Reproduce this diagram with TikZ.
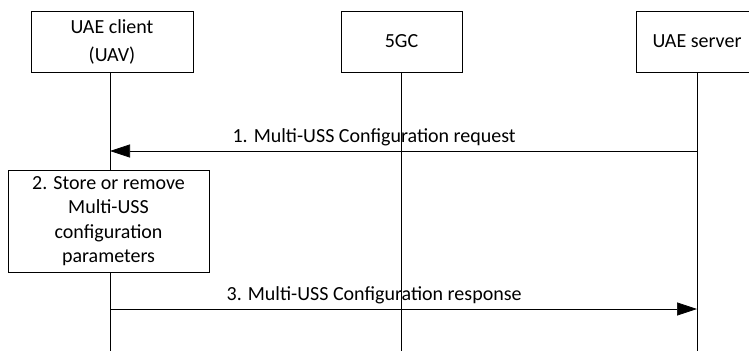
\documentclass[tikz,border=0pt]{standalone}
\usepackage{fontspec}
\setmainfont{Carlito}
\usetikzlibrary{arrows.meta}

\begin{document}
\begin{tikzpicture}[x=1pt, y=-1pt, font=\fontsize{20}{24.5}\selectfont,
  entity/.style={draw, line width=0.7pt, minimum height=61pt, align=center, inner sep=0pt},
  life/.style={line width=0.7pt},
  msg/.style={line width=0.7pt, -{Triangle[length=20pt, width=13pt]}}]
\useasboundingbox (0,0) rectangle (749,351);

% entities
\node[entity, minimum width=162pt] (cli) at (112,41.5) {UAE client\\[3.5pt](UAV)};
\node[entity, minimum width=121pt] (core) at (401.5,41.5) {5GC};
\node[entity, minimum width=122pt] (srv) at (697,41.5) {UAE server};

% lifeline ends
\coordinate (cliEnd) at (110,351);
\coordinate (coreEnd) at (401.5,351);
\coordinate (srvEnd) at (697,351);
\draw[life] (cli.south -| cliEnd) -- (cliEnd);
\draw[life] (core.south) -- (coreEnd);
\draw[life] (srv.south) -- (srvEnd);

% step 1
\coordinate (m1) at (0,151);
\draw[msg] (srvEnd |- m1) -- (cliEnd |- m1) node[pos=0.55, above=1pt] {1. Multi-USS Configuration request};

% step 2
\node[entity, fill=white, minimum width=201pt, minimum height=102pt] (store) at (108.5,221)
  {2. Store or remove\\Multi-USS\\configuration\\parameters};

% step 3
\coordinate (m3) at (0,309);
\draw[msg] (cliEnd |- m3) -- (srvEnd |- m3) node[pos=0.45, above=1pt] {3. Multi-USS Configuration response};
\end{tikzpicture}
\end{document}
